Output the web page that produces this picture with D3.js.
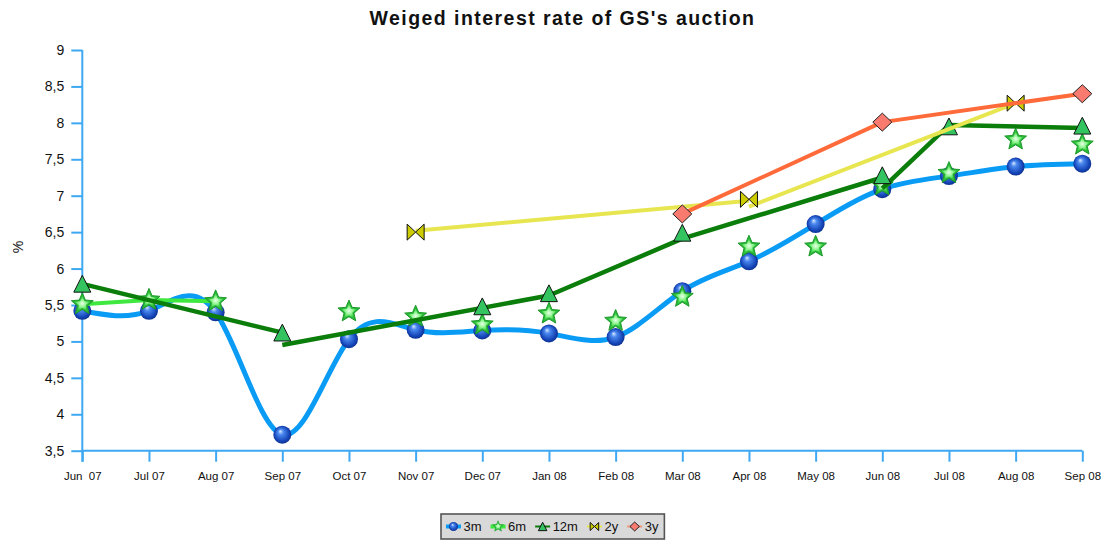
<!DOCTYPE html>
<html>
<head>
<meta charset="utf-8">
<script src="https://cdn.jsdelivr.net/npm/d3@7"></script>
<style>
  html, body { margin: 0; padding: 0; background: #fff; }
  svg { display: block; font-family: "Liberation Sans", Arial, sans-serif; }
</style>
</head>
<body>
<svg id="chart" width="1104" height="541"></svg>
<script>
// ---------- data ----------
const categories = ["Jun  07","Jul 07","Aug 07","Sep 07","Oct 07","Nov 07","Dec 07","Jan 08",
                    "Feb 08","Mar 08","Apr 08","May 08","Jun 08","Jul 08","Aug 08","Sep 08"];
const yTicks = [3.5, 4, 4.5, 5, 5.5, 6, 6.5, 7, 7.5, 8, 8.5, 9];

// marker values per month (null = no point)
const threeM  = [5.42, 5.42, 5.40, 3.72, 5.03, 5.16, 5.15, 5.11, 5.06, 5.69, 6.10, 6.61, 7.09, 7.27, 7.40, 7.44];
const sixM    = [5.51, 5.57, 5.55, null, 5.41, 5.34, 5.23, 5.38, 5.28, 5.61, 6.30, 6.30, 7.14, 7.31, 7.77, 7.70];
const twelveM = [5.79, null, null, 5.12, null, null, 5.48, 5.66, null, 6.49, null, null, 7.28, 7.95, null, 7.96];
const twoY    = [null, null, null, null, null, 6.50, null, null, null, null, 6.95, null, null, null, 8.27, null];
const threeY  = [null, null, null, null, null, null, null, null, null, 6.75, null, null, 8.01, null, null, 8.40];

// connecting lines as drawn in the picture: [monthIndex, value], null = break
const sixMLine    = [[0, 5.51], [1, 5.57], [2, 5.55]];
const twelveMLine = [[0, 5.79], [3, 5.12], null, [3, 4.95], [7, 5.63], [9, 6.41], [12, 7.25], null,
                     [12, 7.10], [13, 7.97], [15, 7.93]];
const twoYLine    = [[5, 6.52], [10, 6.93], null, [10, 6.85], [14, 8.27]];
const threeYLine  = [[9, 6.75], [12, 8.01], [15, 8.40]];

const seriesNames = ["3m", "6m", "12m", "2y", "3y"];

// ---------- setup ----------
const svg = d3.select("#chart");
const defs = svg.append("defs");

const sphereGrad = defs.append("radialGradient").attr("id", "sphere")
  .attr("cx", "50%").attr("cy", "50%").attr("r", "55%").attr("fx", "38%").attr("fy", "30%");
sphereGrad.append("stop").attr("offset", "0%").attr("stop-color", "#d8e8ff");
sphereGrad.append("stop").attr("offset", "28%").attr("stop-color", "#4a88ee");
sphereGrad.append("stop").attr("offset", "75%").attr("stop-color", "#1545b8");
sphereGrad.append("stop").attr("offset", "100%").attr("stop-color", "#0a2a80");

const starGrad = defs.append("radialGradient").attr("id", "star")
  .attr("cx", "50%").attr("cy", "50%").attr("r", "50%");
starGrad.append("stop").attr("offset", "0%").attr("stop-color", "#eaffea");
starGrad.append("stop").attr("offset", "50%").attr("stop-color", "#8ff58f");
starGrad.append("stop").attr("offset", "100%").attr("stop-color", "#2ecc3a");

const x = d3.scalePoint().domain(categories).range([82.3, 1082.3]);
const y = d3.scaleLinear().domain([3.5, 9]).range([450.7, 50]);
const xi = i => x(categories[i]);

const axisColor = "#3ea8f2";

// ---------- axes ----------
const yAxis = svg.append("g").attr("transform", "translate(82.3,0)")
  .call(d3.axisLeft(y).tickValues(yTicks).tickSize(11).tickPadding(7)
        .tickFormat(d => String(d).replace(".", ",")));
yAxis.select(".domain").remove();
yAxis.selectAll(".tick line").attr("stroke", axisColor).attr("stroke-width", 2);
yAxis.selectAll(".tick text").attr("font-size", 14).attr("fill", "#111")
  .attr("font-family", "'Liberation Sans', Arial, sans-serif");

const xAxis = svg.append("g").attr("transform", "translate(0,450.7)")
  .call(d3.axisBottom(x).tickSize(11).tickPadding(10));
xAxis.select(".domain").remove();
xAxis.selectAll(".tick line").attr("stroke", axisColor).attr("stroke-width", 2);
xAxis.selectAll(".tick text").attr("font-size", 11.5).attr("fill", "#111")
  .style("white-space", "pre")
  .attr("font-family", "'Liberation Sans', Arial, sans-serif");

// axis lines
svg.append("line").attr("x1", 82.3).attr("x2", 82.3).attr("y1", y(9)).attr("y2", 461.7)
  .attr("stroke", axisColor).attr("stroke-width", 2);
svg.append("line").attr("x1", 82.3).attr("x2", 1082.3).attr("y1", y(3.5)).attr("y2", y(3.5))
  .attr("stroke", axisColor).attr("stroke-width", 2);

// title and y label
svg.append("text").attr("x", 562.5).attr("y", 24.5).attr("text-anchor", "middle")
  .attr("font-size", 19.5).attr("font-weight", "bold").attr("letter-spacing", 1.45)
  .attr("fill", "#111").text("Weiged interest rate of GS's auction");
svg.append("text").attr("transform", "translate(23,247) rotate(-90)").attr("text-anchor", "middle")
  .attr("font-size", 14).attr("fill", "#111").text("%");

// ---------- marker shapes ----------
function starPath(ro, ri) {
  const p = [];
  for (let k = 0; k < 10; k++) {
    const r = k % 2 === 0 ? ro : ri;
    const a = -Math.PI / 2 + k * Math.PI / 5;
    p.push([r * Math.cos(a), r * Math.sin(a)]);
  }
  return "M" + p.map(q => q.join(",")).join("L") + "Z";
}
const shapes = {
  "3m": (g, s) => g.append("circle").attr("r", 9 * s).attr("fill", "url(#sphere)"),
  "6m": (g, s) => {
    g.append("path").attr("d", starPath(11.5 * s, 5.2 * s)).attr("fill", "#2ab83a")
      .attr("stroke", "#1d9a2a").attr("stroke-width", 1 * s).attr("stroke-linejoin", "round");
    g.append("path").attr("d", starPath(8 * s, 3.6 * s)).attr("fill", "url(#star)");
  },
  "12m": (g, s) => g.append("path").attr("d", `M0,${-8.5*s}L${8.5*s},${8.3*s}L${-8.5*s},${8.3*s}Z`)
                   .attr("fill", "#33c460").attr("stroke", "#111").attr("stroke-width", 1),
  "2y": (g, s) => g.append("path")
                   .attr("d", `M${-8.5*s},${-8*s}L0,0L${-8.5*s},${8*s}ZM${8.5*s},${-8*s}L0,0L${8.5*s},${8*s}Z`)
                   .attr("fill", "#cccc00").attr("stroke", "#111").attr("stroke-width", 1),
  "3y": (g, s) => g.append("path").attr("d", `M0,${-9*s}L${9.5*s},0L0,${9*s}L${-9.5*s},0Z`)
                   .attr("fill", "#f97a6e").attr("stroke", "#222").attr("stroke-width", 1)
};

const colors = { "3m": "#0a9bf5", "6m": "#3ee83e", "12m": "#0a7d0a", "2y": "#e8e650", "3y": "#ff6a3a" };
const widths = { "3m": 5, "6m": 4, "12m": 4.5, "2y": 4, "3y": 4 };

const plot = svg.append("g");

function drawMarkers(name, values) {
  const pts = values.map((v, i) => [i, v]).filter(d => d[1] != null);
  pts.forEach(d => {
    const g = plot.append("g").attr("transform", `translate(${xi(d[0])},${y(d[1])})`);
    shapes[name](g, 1);
  });
}
function drawSegLine(name, arr) {
  const line = d3.line().defined(d => d != null).x(d => xi(d[0])).y(d => y(d[1]));
  plot.append("path").attr("d", line(arr)).attr("fill", "none")
    .attr("stroke", colors[name]).attr("stroke-width", widths[name])
    .attr("stroke-linejoin", "round");
}

// 3m: smooth spline
const smooth = d3.line().x((d, i) => xi(i)).y(d => y(d)).curve(d3.curveNatural);
plot.append("path").attr("d", smooth(threeM)).attr("fill", "none")
  .attr("stroke", colors["3m"]).attr("stroke-width", widths["3m"]);
drawMarkers("3m", threeM);

drawSegLine("6m", sixMLine);
drawMarkers("6m", sixM);

drawSegLine("12m", twelveMLine);
drawMarkers("12m", twelveM);

drawSegLine("2y", twoYLine);
drawMarkers("2y", twoY);

drawSegLine("3y", threeYLine);
drawMarkers("3y", threeY);

// ---------- legend ----------
const legend = svg.append("g");
const box = legend.append("rect").attr("x", 441).attr("y", 514).attr("width", 225).attr("height", 25)
  .attr("fill", "#d9d9d9").attr("stroke", "#555").attr("stroke-width", 1.6);
let lx = 446;
const ly = 526.5;
seriesNames.forEach(name => {
  legend.append("line").attr("x1", lx).attr("x2", lx + 15).attr("y1", ly).attr("y2", ly)
    .attr("stroke", colors[name]).attr("stroke-width", name === "3m" || name === "6m" ? 4 : 2)
    .attr("opacity", name === "3y" ? 0.6 : 1);
  const g = legend.append("g").attr("transform", `translate(${lx + 7.5},${ly})`);
  shapes[name](g, 0.5);
  const t = legend.append("text").attr("x", lx + 17.5).attr("y", ly + 4.7)
    .attr("font-size", 13).attr("fill", "#111").text(name);
  lx += 17.5 + t.node().getComputedTextLength() + 9;
});
box.attr("width", lx - 441 - 3);
</script>
</body>
</html>
